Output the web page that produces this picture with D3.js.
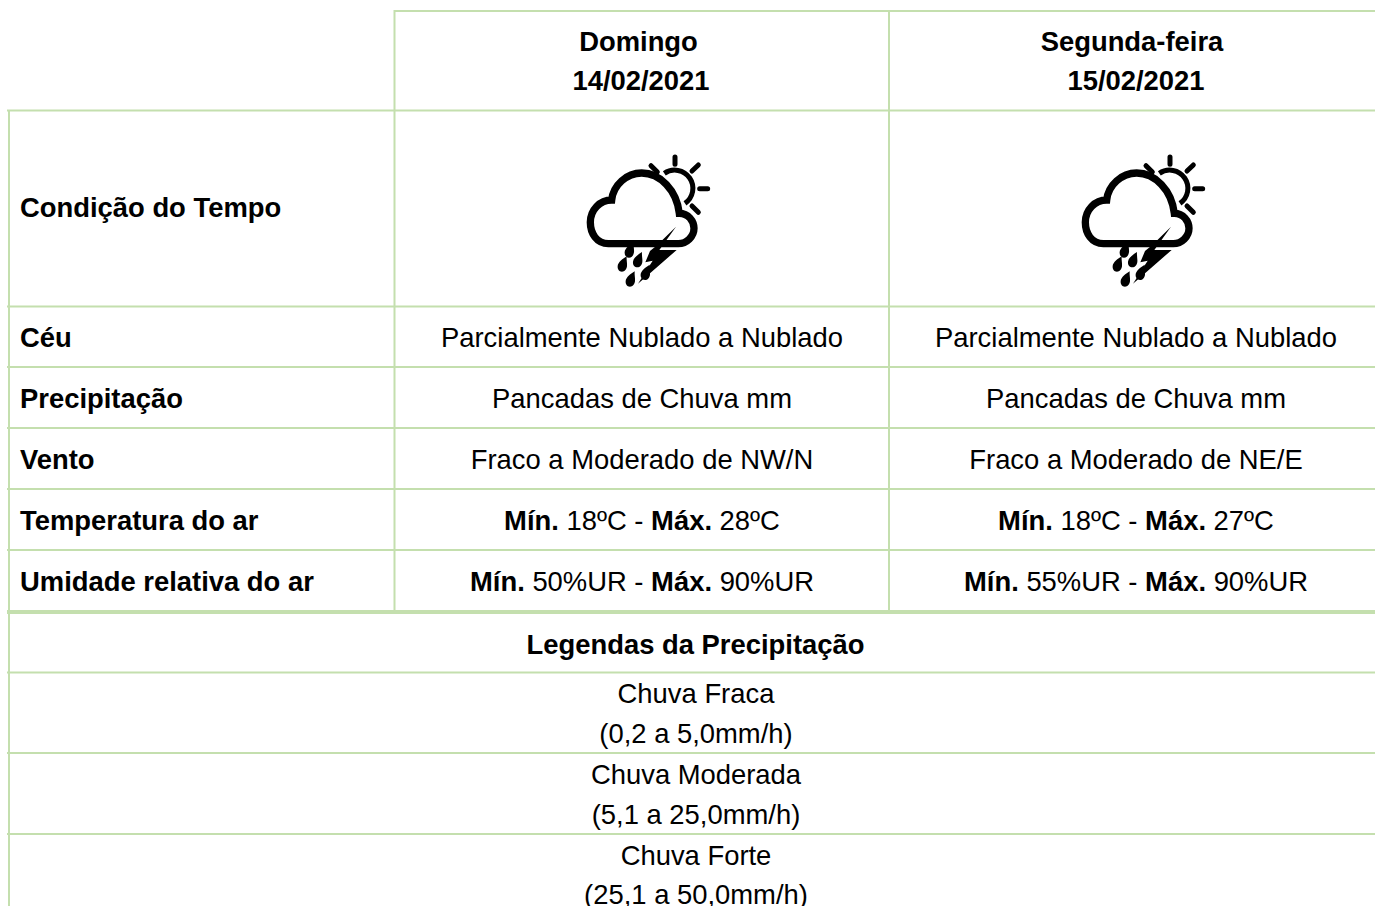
<!DOCTYPE html>
<html>
<head>
<meta charset="utf-8">
<script src="https://cdn.jsdelivr.net/npm/d3@7"></script>
<style>
  html, body { margin: 0; padding: 0; background: #fff; overflow: hidden; }
  text { font-family: "Liberation Sans", Arial, sans-serif; font-size: 27.4px; fill: #000; }
  .b { font-weight: bold; }
</style>
</head>
<body>
<div id="chart"></div>
<script>
const days = ['Domingo', 'Segunda-feira'];
const dates = ['14/02/2021', '15/02/2021'];
const rowLabels = ['Céu', 'Precipitação', 'Vento', 'Temperatura do ar', 'Umidade relativa do ar'];
const sky = ['Parcialmente Nublado a Nublado', 'Parcialmente Nublado a Nublado'];
const rain = ['Pancadas de Chuva mm', 'Pancadas de Chuva mm'];
const wind = ['Fraco a Moderado de NW/N', 'Fraco a Moderado de NE/E'];
const tempMin = [18, 18];
const tempMax = [28, 27];
const humMin = [50, 55];
const humMax = [90, 90];
const legendTitle = 'Legendas da Precipitação';
const legendLines = ['Chuva Fraca', '(0,2 a 5,0mm/h)', 'Chuva Moderada', '(5,1 a 25,0mm/h)', 'Chuva Forte', '(25,1 a 50,0mm/h)'];

const width = 1375, height = 906;
const lineColor = '#c4dfae';

const svg = d3.select('#chart').append('svg')
  .attr('width', width)
  .attr('height', height)
  .style('display', 'block');

// grid lines of the table
const hLines = [
  { y: 11, x1: 394, w: 2 },
  { y: 110.5, x1: 7, w: 2 },
  { y: 306.5, x1: 7, w: 2 },
  { y: 367, x1: 7, w: 2 },
  { y: 428, x1: 7, w: 2 },
  { y: 489, x1: 7, w: 2 },
  { y: 550, x1: 7, w: 2 },
  { y: 612, x1: 7, w: 4 },
  { y: 672.5, x1: 7, w: 2 },
  { y: 753, x1: 7, w: 2 },
  { y: 834, x1: 7, w: 2 }
];
svg.selectAll('.h').data(hLines).enter().append('line')
  .attr('x1', d => d.x1).attr('x2', width)
  .attr('y1', d => d.y).attr('y2', d => d.y)
  .attr('stroke', lineColor).attr('stroke-width', d => d.w);

const vLines = [
  { x: 9, y1: 110, y2: height },
  { x: 394.5, y1: 10, y2: 611 },
  { x: 889, y1: 10, y2: 611 }
];
svg.selectAll('.v').data(vLines).enter().append('line')
  .attr('x1', d => d.x).attr('x2', d => d.x)
  .attr('y1', d => d.y1).attr('y2', d => d.y2)
  .attr('stroke', lineColor).attr('stroke-width', 2);

// column centres
const col = d3.scaleOrdinal().domain([0, 1]).range([642, 1136]);

// header
svg.selectAll('.day').data(days).enter().append('text')
  .attr('class', 'b').attr('text-anchor', 'middle')
  .attr('x', (d, i) => i === 0 ? 638.5 : 1132).attr('y', 51)
  .text(d => d);
svg.selectAll('.date').data(dates).enter().append('text')
  .attr('class', 'b').attr('text-anchor', 'middle')
  .attr('x', (d, i) => i === 0 ? 641 : 1136).attr('y', 90)
  .text(d => d);

// first column
svg.append('text').attr('class', 'b').attr('x', 20).attr('y', 217).text('Condição do Tempo');
const rowY = d3.scalePoint().domain(rowLabels).range([347, 591]);
svg.selectAll('.lab').data(rowLabels).enter().append('text')
  .attr('class', 'b').attr('x', 20).attr('y', d => rowY(d))
  .text(d => d);

// plain value rows
[[sky, 0], [rain, 1], [wind, 2]].forEach(([vals, r]) => {
  svg.selectAll('.r' + r).data(vals).enter().append('text')
    .attr('text-anchor', 'middle')
    .attr('x', (d, i) => col(i)).attr('y', rowY(rowLabels[r]))
    .text(d => d);
});

// min / max rows
function minMaxRow(mins, maxs, unit, r) {
  mins.forEach((m, i) => {
    const t = svg.append('text').attr('text-anchor', 'middle')
      .attr('x', col(i)).attr('y', rowY(rowLabels[r]));
    t.append('tspan').attr('class', 'b').text('Mín.');
    t.append('tspan').text(' ' + m + unit + ' - ');
    t.append('tspan').attr('class', 'b').text('Máx.');
    t.append('tspan').text(' ' + maxs[i] + unit);
  });
}
minMaxRow(tempMin, tempMax, 'ºC', 3);
minMaxRow(humMin, humMax, '%UR', 4);

// legend
svg.append('text').attr('class', 'b').attr('text-anchor', 'middle')
  .attr('x', 695.5).attr('y', 654).text(legendTitle);
const legendY = [703, 743, 784, 824, 865, 904];
svg.selectAll('.leg').data(legendLines).enter().append('text')
  .attr('text-anchor', 'middle')
  .attr('x', 696).attr('y', (d, i) => legendY[i])
  .text(d => d);

// weather icon, drawn at 3x and scaled down
function drawIcon(x, y) {
  const g = svg.append('g').attr('transform', `translate(${x},${y}) scale(${1 / 3})`);
  g.append('path')
    .attr('d', 'M283 85 A48 48 0 1 1 345 175')
    .attr('fill', 'none').attr('stroke', '#000').attr('stroke-width', 15);
  g.append('path')
    .attr('d', 'M243 62L262 81M315 36V58M385 60L366 78M389 131H413M366 183L385 202')
    .attr('fill', 'none').attr('stroke', '#000').attr('stroke-width', 15).attr('stroke-linecap', 'round');
  g.append('path')
    .attr('d', 'M115 296 C80 296 61 265 61 232 C61 195 90 165 125 165 C130 120 170 84 215 84 C270 84 320 135 328 205 C355 205 372 228 372 250 C372 275 350 296 325 296 Z')
    .attr('fill', '#fff').attr('stroke', '#000').attr('stroke-width', 22);
  g.append('path')
    .attr('d', 'M318 245 L262 300 L240 318 L226 352 L248 347 L204 416 L320 315 L268 315 Z')
    .attr('fill', '#000');
  const drops = [[178, 318], [157, 360], [203, 347], [181, 405], [226, 385]];
  g.selectAll('.drop').data(drops).enter().append('path')
    .attr('d', 'M13 -26 C12 -14 15 -6 14 4 C13 13 7 20 -1 20 C-10 20 -15 12 -14 3 C-13 -8 2 -19 13 -26 Z')
    .attr('transform', d => `translate(${d[0]},${d[1]})`)
    .attr('fill', '#000');
}
drawIcon(570, 145);
drawIcon(1065, 145);
</script>
</body>
</html>
